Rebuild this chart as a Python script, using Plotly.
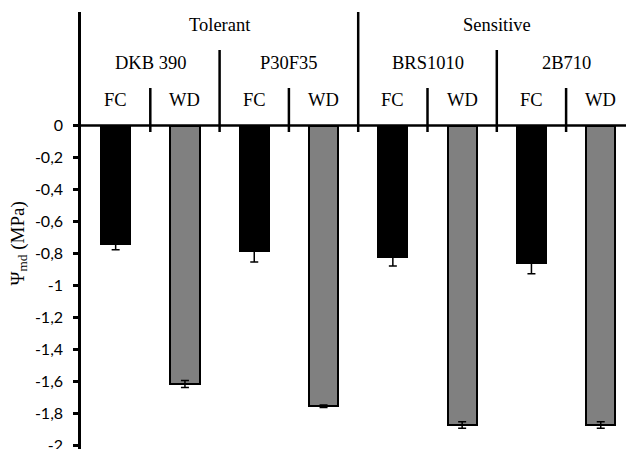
import plotly.graph_objects as go

groups = ["Tolerant", "Sensitive"]
cultivars = ["DKB 390", "P30F35", "BRS1010", "2B710"]
treatments = ["FC", "WD"]
fc_values = [-0.743, -0.785, -0.822, -0.857]
fc_err = [0.033, 0.068, 0.056, 0.069]
wd_values = [-1.615, -1.755, -1.872, -1.872]
wd_err = [0.022, 0.008, 0.02, 0.02]
y_ticks = [0, -0.2, -0.4, -0.6, -0.8, -1, -1.2, -1.4, -1.6, -1.8, -2]
y_ticktext = [("%g" % v).replace(".", ",") for v in y_ticks]

fc_x = [2 * i for i in range(len(cultivars))]
wd_x = [2 * i + 1 for i in range(len(cultivars))]

fig = go.Figure()
fig.add_trace(go.Bar(
    x=fc_x, y=fc_values, width=0.42,
    marker=dict(color="black", line=dict(color="black", width=2)),
    error_y=dict(type="data", array=fc_err, color="black", thickness=1.5, width=4),
    showlegend=False))
fig.add_trace(go.Bar(
    x=wd_x, y=wd_values, width=0.42,
    marker=dict(color="#808080", line=dict(color="black", width=2)),
    error_y=dict(type="data", array=wd_err, color="black", thickness=1.5, width=4),
    showlegend=False))

px_per_unit = 160.0
zero_px = 125.5
top_px = 12
H = 449
W = 626
left_px = 81
y_top = (zero_px - top_px) / px_per_unit
y_bot = -(H - zero_px) / px_per_unit

shapes = []
line = dict(color="black", width=2.5)
y_low = -6.5 / px_per_unit
shapes.append(dict(type="line", xref="x", yref="y", x0=3.5, x1=3.5, y0=y_low, y1=y_top, line=line))
for xv in [1.5, 5.5]:
    shapes.append(dict(type="line", xref="x", yref="y", x0=xv, x1=xv, y0=y_low,
                       y1=(zero_px - 50) / px_per_unit, line=line))
for xv in [0.5, 2.5, 4.5, 6.5]:
    shapes.append(dict(type="line", xref="x", yref="y", x0=xv, x1=xv, y0=y_low,
                       y1=(zero_px - 88) / px_per_unit, line=line))
shapes.append(dict(type="line", xref="paper", yref="y", x0=0, x1=1, y0=0, y1=0, line=line))

serif = dict(family="Liberation Serif, Times New Roman, serif", size=18.5, color="black")
ann = []
for gi, g in enumerate(groups):
    ann.append(dict(x=4 * gi + 1.5, y=(zero_px - 25) / px_per_unit, xref="x", yref="y",
                    text=g, showarrow=False, font=serif))
for ci, c in enumerate(cultivars):
    ann.append(dict(x=2 * ci + 0.5, y=(zero_px - 63) / px_per_unit, xref="x", yref="y",
                    text=c, showarrow=False, font=serif))
for ci in range(len(cultivars)):
    for ti, t in enumerate(treatments):
        ann.append(dict(x=2 * ci + ti, y=(zero_px - 100) / px_per_unit, xref="x", yref="y",
                        text=t, showarrow=False, font=serif))
ann.append(dict(xref="paper", yref="y", x=(18 - left_px) / (W - left_px),
                y=(zero_px - 243.5) / px_per_unit, xanchor="center", yanchor="middle",
                text="Ψ<sub>md</sub> (MPa)", showarrow=False, textangle=-90,
                font=dict(family="Liberation Serif, Times New Roman, serif", size=19, color="black")))

slot = 69.3
x_right = -0.5 + (W - left_px) / slot

fig.update_layout(
    width=W, height=H,
    margin=dict(l=left_px, r=0, t=top_px, b=0, pad=0, autoexpand=False),
    plot_bgcolor="white", paper_bgcolor="white",
    bargap=0, shapes=shapes, annotations=ann,
    xaxis=dict(range=[-0.5, x_right], showticklabels=False, showgrid=False,
               zeroline=False, showline=False, ticks="", automargin=False),
    yaxis=dict(range=[y_bot, y_top], tickvals=y_ticks, ticktext=y_ticktext,
               showgrid=False, zeroline=False, showline=True, linecolor="black",
               linewidth=2.5, ticks="outside", ticklen=5, tickwidth=2.5,
               tickcolor="black", ticklabelstandoff=7, ticklabeloverflow="allow",
               automargin=False,
               tickfont=dict(family="Lato, Carlito, Calibri, sans-serif", size=16, color="black")),
)
post = (
    "var s=document.createElement('style');"
    "s.textContent='html,body{margin:0;padding:0;overflow:hidden;}';"
    "document.head.appendChild(s);"
)
fig.write_html("out.html", config={"displayModeBar": False}, post_script=post)
